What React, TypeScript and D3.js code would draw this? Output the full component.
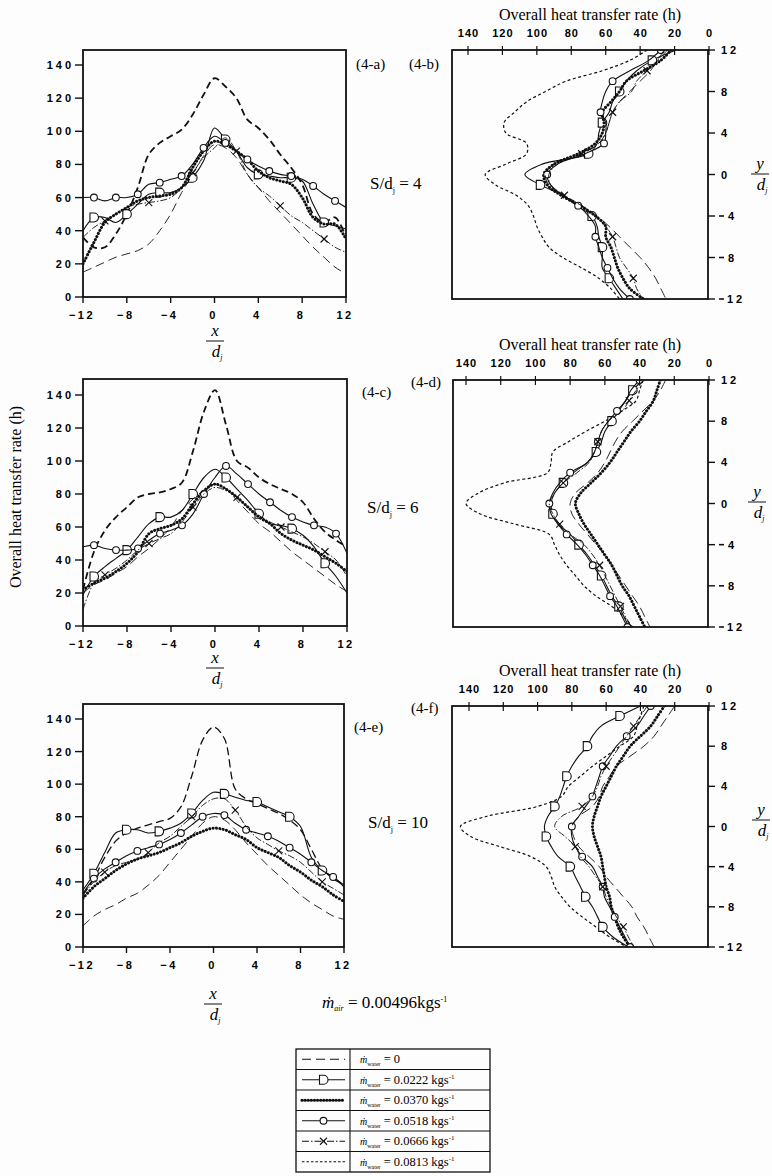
import React from 'react';
import * as d3 from 'd3';

// ---------- categories / positions ----------
const xPositions = [-12, -11, -10, -9, -8, -7, -6, -5, -4, -3, -2, -1, 0, 1, 2, 3, 4, 5, 6, 7, 8, 9, 10, 11, 12];
const yPositions = [12, 11, 10, 9, 8, 7, 6, 5, 4, 3, 2, 1, 0, -1, -2, -3, -4, -5, -6, -7, -8, -9, -10, -11, -12];
const seriesLabels = ['0', '0.0222 kgs', '0.0370 kgs', '0.0518 kgs', '0.0666 kgs', '0.0813 kgs'];
const leftTicksH = [0, 20, 40, 60, 80, 100, 120, 140];
const xTicks = [-12, -8, -4, 0, 4, 8, 12];
const topTicksH = [140, 120, 100, 80, 60, 40, 20, 0];
const rightTicksY = [12, 8, 4, 0, -4, -8, -12];

// ---------- panel (4-a) S/dj = 4 : h vs x/dj ----------
const a_m0 = [36, 30, 30, 38, 50, 66, 86, 93, 97, 101, 110, 122, 132, 127, 120, 107, 102, 95, 86, 78, 68, 50, 45, 48, 36];
const a_m1 = [40, 48, 48, 45, 50, 56, 62, 63, 63, 66, 72, 82, 102, 95, 88, 78, 74, 73, 72, 72, 70, 56, 45, 43, 41];
const a_m2 = [20, 33, 45, 50, 54, 58, 60, 61, 62, 66, 78, 88, 94, 92, 88, 83, 76, 72, 70, 68, 60, 48, 44, 44, 35];
const a_m3 = [60, 60, 58, 60, 60, 62, 68, 69, 71, 73, 80, 90, 97, 93, 88, 83, 79, 76, 74, 73, 71, 67, 62, 58, 54];
const a_m4 = [36, 42, 46, 50, 54, 56, 57, 58, 60, 66, 75, 84, 90, 96, 88, 74, 66, 61, 55, 49, 45, 40, 35, 30, 27];
const a_m5 = [15, 18, 21, 24, 26, 28, 32, 40, 50, 63, 74, 85, 92, 90, 84, 74, 66, 58, 51, 44, 37, 30, 24, 18, 14];

// ---------- panel (4-c) S/dj = 6 ----------
const c_m0 = [22, 45, 58, 66, 72, 78, 80, 81, 83, 87, 106, 130, 143, 122, 100, 96, 90, 86, 83, 80, 75, 65, 57, 52, 48];
const c_m1 = [19, 30, 36, 41, 46, 54, 62, 66, 66, 70, 80, 90, 95, 90, 83, 76, 68, 62, 61, 59, 55, 48, 38, 30, 20];
const c_m2 = [22, 26, 29, 33, 38, 45, 56, 59, 61, 65, 74, 82, 86, 83, 78, 72, 66, 62, 56, 52, 49, 46, 42, 38, 33];
const c_m3 = [48, 49, 47, 46, 46, 47, 52, 56, 58, 61, 68, 80, 90, 97, 92, 86, 80, 75, 70, 66, 63, 61, 60, 56, 44];
const c_m4 = [10, 26, 31, 35, 40, 46, 50, 53, 56, 63, 72, 80, 84, 82, 78, 72, 67, 63, 60, 57, 54, 50, 45, 40, 30];
const c_m5 = [20, 25, 28, 32, 36, 42, 47, 53, 60, 70, 77, 82, 86, 83, 76, 69, 62, 57, 51, 45, 40, 35, 30, 25, 21];

// ---------- panel (4-e) S/dj = 10 ----------
const e_m0 = [32, 42, 55, 65, 70, 73, 75, 77, 79, 86, 105, 127, 135, 128, 97, 91, 88, 85, 82, 78, 72, 60, 48, 42, 38];
const e_m1 = [35, 45, 58, 70, 72, 72, 70, 71, 73, 76, 82, 90, 95, 94, 92, 90, 89, 86, 83, 80, 74, 55, 47, 43, 38];
const e_m2 = [30, 37, 42, 47, 51, 54, 56, 58, 61, 64, 68, 71, 73, 72, 69, 66, 61, 58, 55, 50, 46, 41, 37, 32, 28];
const e_m3 = [33, 42, 48, 52, 56, 59, 61, 63, 66, 70, 75, 80, 82, 81, 76, 72, 70, 68, 65, 61, 57, 52, 47, 43, 37];
const e_m4 = [32, 40, 46, 50, 52, 54, 58, 64, 68, 74, 80, 87, 91, 91, 84, 74, 67, 63, 59, 56, 52, 46, 40, 36, 32];
const e_m5 = [13, 19, 23, 26, 30, 33, 38, 44, 52, 60, 68, 76, 80, 78, 72, 64, 57, 50, 44, 38, 32, 27, 23, 19, 17];

// ---------- panel (4-b) S/dj = 4 : h vs y/dj ----------
const b_m0 = [36, 46, 62, 83, 95, 106, 113, 119, 118, 106, 106, 118, 130, 124, 112, 105, 102, 100, 97, 93, 85, 74, 64, 57, 52];
const b_m1 = [19, 33, 42, 48, 52, 56, 58, 62, 64, 65, 70, 97, 107, 98, 85, 77, 68, 65, 64, 62, 62, 62, 58, 54, 50];
const b_m2 = [22, 28, 38, 48, 52, 57, 62, 61, 62, 66, 76, 90, 96, 94, 86, 75, 66, 60, 60, 57, 55, 53, 50, 46, 38];
const b_m3 = [28, 35, 46, 56, 60, 62, 63, 60, 60, 61, 72, 88, 94, 92, 85, 76, 70, 66, 66, 64, 62, 59, 56, 52, 46];
const b_m4 = [24, 30, 36, 42, 45, 52, 56, 58, 60, 64, 74, 88, 93, 92, 84, 74, 66, 60, 56, 54, 52, 48, 44, 42, 38];
const b_m5 = [26, 30, 34, 40, 46, 52, 56, 58, 60, 64, 74, 90, 95, 93, 85, 74, 65, 58, 52, 46, 40, 35, 31, 28, 25];

// ---------- panel (4-d) S/dj = 6 ----------
const d_m0 = [38, 40, 42, 50, 60, 71, 81, 90, 91, 93, 118, 133, 140, 132, 112, 92, 89, 86, 82, 77, 72, 65, 56, 49, 44];
const d_m1 = [38, 44, 48, 52, 56, 60, 62, 65, 70, 78, 84, 89, 91, 90, 87, 80, 75, 70, 66, 62, 59, 56, 52, 49, 46];
const d_m2 = [28, 30, 32, 36, 40, 45, 49, 53, 57, 62, 68, 74, 77, 75, 72, 68, 64, 60, 56, 53, 50, 46, 43, 40, 37];
const d_m3 = [40, 45, 48, 53, 58, 62, 64, 66, 70, 80, 86, 90, 92, 91, 87, 82, 76, 71, 67, 63, 60, 57, 53, 50, 47];
const d_m4 = [38, 42, 46, 50, 58, 62, 64, 66, 69, 76, 84, 89, 92, 90, 86, 80, 72, 67, 63, 60, 57, 54, 51, 48, 45];
const d_m5 = [25, 28, 32, 38, 44, 50, 54, 57, 60, 64, 70, 77, 80, 79, 75, 70, 65, 60, 56, 52, 48, 44, 40, 37, 34];

// ---------- panel (4-f) S/dj = 10 ----------
const f_m0 = [38, 40, 42, 44, 52, 60, 68, 75, 82, 86, 100, 130, 145, 139, 122, 104, 95, 92, 90, 86, 81, 74, 66, 58, 48];
const f_m1 = [40, 52, 63, 68, 71, 76, 80, 83, 85, 87, 90, 94, 96, 95, 92, 88, 81, 78, 75, 72, 68, 65, 62, 56, 47];
const f_m2 = [26, 30, 34, 40, 46, 50, 54, 57, 60, 63, 65, 67, 68, 67, 65, 63, 62, 61, 60, 58, 57, 55, 53, 50, 46];
const f_m3 = [34, 38, 42, 48, 54, 58, 62, 64, 66, 68, 72, 76, 80, 80, 78, 74, 68, 65, 62, 61, 58, 55, 52, 49, 46];
const f_m4 = [36, 40, 44, 48, 52, 56, 60, 63, 65, 68, 74, 86, 90, 84, 78, 75, 70, 66, 62, 60, 57, 54, 50, 47, 44];
const f_m5 = [20, 24, 28, 32, 38, 46, 54, 58, 62, 64, 68, 76, 80, 79, 76, 70, 64, 60, 55, 50, 45, 42, 38, 35, 32];

const FS = 'Liberation Serif, Times New Roman, serif';
const FB = 'Liberation Sans, Arial, sans-serif';

type Style = { dash: string | null; w: number; cap?: string; marker?: string; step?: number; off?: number };
const leftStyles: Style[] = [
  { dash: '7,4', w: 1.8 },
  { dash: null, w: 1.1, marker: 'D', step: 3, off: 1 },
  { dash: '0.1,3.3', w: 3, cap: 'round' },
  { dash: null, w: 1.1, marker: 'o', step: 2, off: 1 },
  { dash: '7,2,1.5,2', w: 0.9, marker: 'x', step: 4, off: 2 },
  { dash: '9,5', w: 0.9 },
];
const rightStyles: Style[] = [
  { dash: '3,2.5', w: 1.2 },
  { dash: null, w: 1.1, marker: 'D', step: 3, off: 1 },
  { dash: '0.1,3.3', w: 3, cap: 'round' },
  { dash: null, w: 1.1, marker: 'o', step: 3, off: 0 },
  { dash: '7,2,1.5,2', w: 0.9, marker: 'x', step: 4, off: 2 },
  { dash: '10,5', w: 0.9 },
];

function Marker({ kind, x, y }: { kind: string; x: number; y: number }) {
  if (kind === 'D')
    return <path d={`M${x - 4},${y - 4.5} L${x},${y - 4.5} A4.5,4.5 0 0 1 ${x},${y + 4.5} L${x - 4},${y + 4.5} Z`} fill="#fff" stroke="#111" strokeWidth={1.1} />;
  if (kind === 'o') return <circle cx={x} cy={y} r={3.4} fill="#fff" stroke="#111" strokeWidth={1.1} />;
  return (
    <g stroke="#111" strokeWidth={1.1}>
      <line x1={x - 3.5} y1={y - 3.5} x2={x + 3.5} y2={y + 3.5} />
      <line x1={x - 3.5} y1={y + 3.5} x2={x + 3.5} y2={y - 3.5} />
    </g>
  );
}

type LeftP = { id: string; left: number; right: number; top: number; y0: number; y140: number; s0w: number; s0dash: string; series: number[][] };
const leftPanels: LeftP[] = [
  { id: 'a', left: 83, right: 346, top: 50, y0: 297, y140: 65, s0w: 1.8, s0dash: '7,4', series: [a_m0, a_m1, a_m2, a_m3, a_m4, a_m5] },
  { id: 'c', left: 83, right: 347, top: 379, y0: 626, y140: 395, s0w: 1.8, s0dash: '7,4', series: [c_m0, c_m1, c_m2, c_m3, c_m4, c_m5] },
  { id: 'e', left: 83, right: 344, top: 704, y0: 947, y140: 719, s0w: 1.3, s0dash: '8,4', series: [e_m0, e_m1, e_m2, e_m3, e_m4, e_m5] },
];

type RightP = { id: string; left: number; right: number; top: number; bottom: number; h0: number; h140: number; series: number[][] };
const rightPanels: RightP[] = [
  { id: 'b', left: 452, right: 708, top: 50, bottom: 299, h0: 709, h140: 468, series: [b_m0, b_m1, b_m2, b_m3, b_m4, b_m5] },
  { id: 'd', left: 453, right: 708, top: 380, bottom: 627, h0: 709, h140: 466, series: [d_m0, d_m1, d_m2, d_m3, d_m4, d_m5] },
  { id: 'f', left: 452, right: 708, top: 706, bottom: 947, h0: 709, h140: 469, series: [f_m0, f_m1, f_m2, f_m3, f_m4, f_m5] },
];

function LeftPanel({ p }: { p: LeftP }) {
  const x = d3.scaleLinear().domain([-12, 12]).range([p.left, p.right]);
  const y = d3.scaleLinear().domain([0, 140]).range([p.y0, p.y140]);
  const line = d3
    .line<[number, number]>()
    .x((d) => x(d[0]))
    .y((d) => y(d[1]))
    .curve(d3.curveCatmullRom.alpha(0.5));
  const clip = `clip-${p.id}`;
  return (
    <g>
      <clipPath id={clip}>
        <rect x={p.left} y={p.top} width={p.right - p.left} height={p.y0 - p.top} />
      </clipPath>
      <g clipPath={`url(#${clip})`}>
        {p.series.map((vals, si) => {
          const st = si === 0 ? { ...leftStyles[0], w: p.s0w, dash: p.s0dash } : leftStyles[si];
          const pts = xPositions.map((xv, i) => [xv, vals[i]] as [number, number]);
          return (
            <g key={si}>
              <path d={line(pts) || ''} fill="none" stroke="#111" strokeWidth={st.w} strokeDasharray={st.dash || undefined} strokeLinecap={(st.cap as any) || 'butt'} />
              {st.marker &&
                pts.filter((_, i) => i % (st.step || 3) === (st.off || 0)).map((d, i) => <Marker key={i} kind={st.marker!} x={x(d[0])} y={y(d[1])} />)}
            </g>
          );
        })}
      </g>
      <rect x={p.left} y={p.top} width={p.right - p.left} height={p.y0 - p.top} fill="none" stroke="#111" strokeWidth={1.8} />
      {leftTicksH.map((t) => (
        <g key={t}>
          <line x1={p.left - 8} x2={p.left} y1={y(t)} y2={y(t)} stroke="#111" strokeWidth={1.4} />
          <text x={p.left - 9} y={y(t) + 4} textAnchor="end" fontFamily={FB} fontWeight={700} fontSize={11} letterSpacing={3}>
            {String(t)}
          </text>
        </g>
      ))}
      {xTicks.map((t) => (
        <g key={t}>
          <line x1={x(t)} x2={x(t)} y1={p.y0} y2={p.y0 + 6} stroke="#111" strokeWidth={1.4} />
          <text x={x(t) - 1} y={p.y0 + 22} textAnchor="middle" fontFamily={FB} fontWeight={700} fontSize={11} letterSpacing={2.5}>
            {t < 0 ? `\u2212${-t}` : String(t)}
          </text>
        </g>
      ))}
    </g>
  );
}

function RightPanel({ p }: { p: RightP }) {
  const x = d3.scaleLinear().domain([0, 140]).range([p.h0, p.h140]);
  const y = d3.scaleLinear().domain([-12, 12]).range([p.bottom, p.top]);
  const line = d3
    .line<[number, number]>()
    .x((d) => x(d[1]))
    .y((d) => y(d[0]))
    .curve(d3.curveCatmullRom.alpha(0.5));
  const clip = `clip-${p.id}`;
  return (
    <g>
      <clipPath id={clip}>
        <rect x={p.left} y={p.top} width={p.right - p.left} height={p.bottom - p.top} />
      </clipPath>
      <g clipPath={`url(#${clip})`}>
        {p.series.map((vals, si) => {
          const st = rightStyles[si];
          const pts = yPositions.map((yv, i) => [yv, vals[i]] as [number, number]);
          return (
            <g key={si}>
              <path d={line(pts) || ''} fill="none" stroke="#111" strokeWidth={st.w} strokeDasharray={st.dash || undefined} strokeLinecap={(st.cap as any) || 'butt'} />
              {st.marker &&
                pts.filter((_, i) => i % (st.step || 3) === (st.off || 0)).map((d, i) => <Marker key={i} kind={st.marker!} x={x(d[1])} y={y(d[0])} />)}
            </g>
          );
        })}
      </g>
      <rect x={p.left} y={p.top} width={p.right - p.left} height={p.bottom - p.top} fill="none" stroke="#111" strokeWidth={1.8} />
      <text x={590} y={p.top - 30} textAnchor="middle" fontFamily={FS} fontSize={16}>
        Overall heat transfer rate (h)
      </text>
      {topTicksH.map((t) => (
        <g key={t}>
          <line x1={x(t)} x2={x(t)} y1={p.top - 4} y2={p.top + 5} stroke="#111" strokeWidth={1.2} />
          <text x={x(t) + 0.5} y={p.top - 13} textAnchor="middle" fontFamily={FB} fontWeight={700} fontSize={11} letterSpacing={1}>
            {String(t)}
          </text>
        </g>
      ))}
      {rightTicksY.map((t) => (
        <g key={t}>
          <line x1={p.right} x2={p.right + 7} y1={y(t)} y2={y(t)} stroke="#111" strokeWidth={1.4} />
          {t < 0 && <line x1={p.right + 11} x2={p.right + 16} y1={y(t)} y2={y(t)} stroke="#111" strokeWidth={1.6} />}
          <text x={p.right + (t === -12 ? 19 : t < 0 ? 20 : 13)} y={y(t) + 4} textAnchor="start" fontFamily={FB} fontWeight={700} fontSize={11} letterSpacing={3}>
            {String(Math.abs(t))}
          </text>
        </g>
      ))}
    </g>
  );
}

function Frac({ cx, lineY, num }: { cx: number; lineY: number; num: string }) {
  return (
    <g fontFamily={FS}>
      <text x={cx} y={lineY - 5} textAnchor="middle" fontStyle="italic" fontSize={17}>
        {num}
      </text>
      <line x1={cx - 9} x2={cx + 9} y1={lineY} y2={lineY} stroke="#111" strokeWidth={1} />
      <text x={cx + 2} y={lineY + 16} textAnchor="middle" fontStyle="italic" fontSize={17}>
        d<tspan fontSize={8} dy={3}>j</tspan>
      </text>
    </g>
  );
}

function SdLabel({ x, y, v }: { x: number; y: number; v: string }) {
  return (
    <text x={x} y={y} fontFamily={FS} fontSize={17}>
      S/d<tspan fontSize={8} dy={4}>j</tspan>
      <tspan dy={-4}>{` = ${v}`}</tspan>
    </text>
  );
}

function LegendSample({ si, x1, x2, yc }: { si: number; x1: number; x2: number; yc: number }) {
  const dashes = ['9,5', null, '0.1,3', null, '7,2,1.5,2', '2.5,2'];
  const widths = [1.2, 1.1, 3.2, 1.1, 1, 1];
  const mk = [null, 'D', null, 'o', 'x', null][si];
  return (
    <g>
      <line x1={x1} x2={x2} y1={yc} y2={yc} stroke="#111" strokeWidth={widths[si]} strokeDasharray={dashes[si] || undefined} strokeLinecap={si === 2 ? 'round' : 'butt'} />
      {mk && <Marker kind={mk} x={(x1 + x2) / 2} y={yc} />}
    </g>
  );
}

export default function App() {
  const legTop = 1049;
  const rowH = 20.5;
  return (
    <svg width={772} height={1176} viewBox="0 0 772 1176" style={{ position: 'absolute', left: 0, top: 0, background: '#fff' }}>
      <rect x={0} y={0} width={772} height={1176} fill="#fdfdfd" />
      {leftPanels.map((p) => (
        <LeftPanel key={p.id} p={p} />
      ))}
      {rightPanels.map((p) => (
        <RightPanel key={p.id} p={p} />
      ))}

      {/* panel labels */}
      <g fontFamily={FS} fontSize={15}>
        <text x={356} y={69}>(4-a)</text>
        <text x={409} y={69}>(4-b)</text>
        <text x={362} y={397}>(4-c)</text>
        <text x={411} y={387}>(4-d)</text>
        <text x={354} y={732}>(4-e)</text>
        <text x={411} y={713}>(4-f)</text>
      </g>
      <SdLabel x={370} y={189} v="4" />
      <SdLabel x={367} y={513} v="6" />
      <SdLabel x={368} y={828} v="10" />

      {/* x/dj labels */}
      <Frac cx={215} lineY={341} num="x" />
      <Frac cx={215} lineY={668} num="x" />
      <Frac cx={213} lineY={1004} num="x" />
      {/* y/dj labels */}
      <Frac cx={760} lineY={174} num="y" />
      <Frac cx={757} lineY={502} num="y" />
      <Frac cx={761} lineY={820} num="y" />

      {/* left y axis title */}
      <text transform="translate(21,497) rotate(-90)" textAnchor="middle" fontFamily={FS} fontSize={16}>
        Overall heat transfer rate (h)
      </text>

      {/* m_air */}
      <text x={322} y={1008} fontFamily={FS} fontSize={17}>
        <tspan fontStyle="italic">{'\u1E41'}</tspan>
        <tspan fontSize={8} fontStyle="italic" dy={3}>air</tspan>
        <tspan dy={-3}> = 0.00496kgs</tspan>
        <tspan fontSize={8} dy={-6}>-1</tspan>
      </text>

      {/* legend */}
      <g>
        <rect x={296} y={legTop} width={194} height={rowH * 6} fill="none" stroke="#111" strokeWidth={1.3} />
        <line x1={350} x2={350} y1={legTop} y2={legTop + rowH * 6} stroke="#111" strokeWidth={1.1} />
        {seriesLabels.map((lab, i) => {
          const yc = legTop + rowH * i + rowH / 2;
          return (
            <g key={i}>
              {i > 0 && <line x1={296} x2={490} y1={legTop + rowH * i} y2={legTop + rowH * i} stroke="#111" strokeWidth={1.1} />}
              <LegendSample si={i} x1={302} x2={345} yc={yc} />
              <text x={360} y={yc + 4} fontFamily={FS} fontSize={12.5}>
                <tspan fontStyle="italic" fontSize={10}>{'\u1E41'}</tspan>
                <tspan fontSize={6} dy={3}>water</tspan>
                <tspan dy={-3}>{` = ${lab}`}</tspan>
                {i > 0 && (
                  <tspan fontSize={7} dy={-5}>
                    -1
                  </tspan>
                )}
              </text>
            </g>
          );
        })}
      </g>
    </svg>
  );
}
